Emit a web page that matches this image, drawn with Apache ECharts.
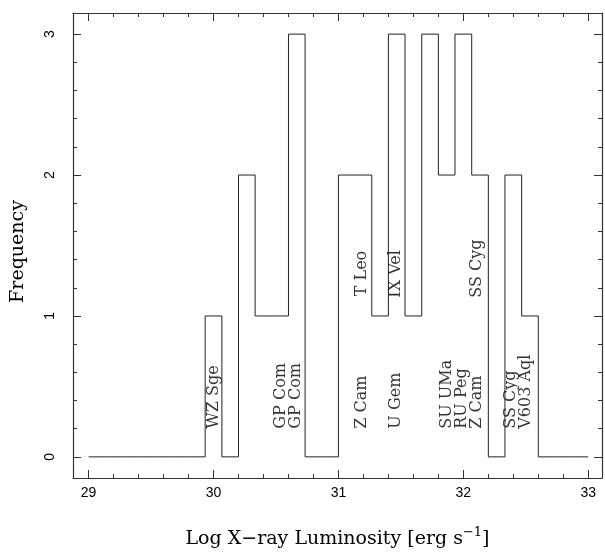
<!DOCTYPE html>
<html>
<head>
<meta charset="utf-8">
<script src="https://cdn.jsdelivr.net/npm/echarts@6/dist/echarts.min.js"></script>
<style>
html,body{margin:0;padding:0;background:#fff;}
#chart{width:605px;height:552px;}
</style>
</head>
<body>
<div id="chart"></div>
<script>
// Histogram bin edges (log Lx) and counts per bin
const binEdges = [29.000, 29.133, 29.267, 29.400, 29.533, 29.667, 29.800, 29.933, 30.067, 30.200,
                  30.333, 30.467, 30.600, 30.733, 30.867, 31.000, 31.133, 31.267, 31.400, 31.533,
                  31.667, 31.800, 31.933, 32.067, 32.200, 32.333, 32.467, 32.600, 32.733, 32.867, 33.000];
const binCounts = [0, 0, 0, 0, 0, 0, 0, 1, 0, 2,
                   1, 1, 3, 0, 0, 2, 2, 1, 3, 1,
                   3, 2, 3, 2, 0, 2, 1, 0, 0, 0];

// Object annotations: name, log Lx position, frequency-level where text starts
const annotNames = ['WZ Sge', 'GP Com', 'GP Com', 'Z Cam', 'T Leo', 'U Gem', 'IX Vel',
                    'SU UMa', 'RU Peg', 'Z Cam', 'SS Cyg', 'SS Cyg', 'V603 Aql'];
const annotX = [30.00, 30.535, 30.66, 31.19, 31.19, 31.46, 31.46,
                31.867, 31.99, 32.11, 32.11, 32.38, 32.50];
const annotY = [0.20, 0.20, 0.20, 0.20, 1.14, 0.20, 1.13,
                0.20, 0.20, 0.20, 1.13, 0.20, 0.20];

// Axis ticks
const xMajorTicks = [29, 30, 31, 32, 33];
const yMajorTicks = [0, 1, 2, 3];
const xRange = [28.875, 33.11];
const yRange = [-0.15, 3.15];

const xMinorTicks = [];
for (let i = 0; i <= 20; i++) xMinorTicks.push(+(29 + i * 0.2).toFixed(2));
const yMinorTicks = [];
for (let i = 0; i <= 15; i++) yMinorTicks.push(+(i * 0.2).toFixed(2));

// Build step outline from bins
const stepPts = [];
for (let i = 0; i < binCounts.length; i++) {
  stepPts.push([binEdges[i], binCounts[i]]);
  stepPts.push([binEdges[i + 1], binCounts[i]]);
}

const frameColor = '#333';
const serif = 'DejaVu Serif';

function xAx(pos, major, withLine, extra) {
  return Object.assign({
    type: 'value', position: pos, min: xRange[0], max: xRange[1],
    axisLine: { show: withLine, onZero: false, lineStyle: { color: frameColor, width: 1.2 } },
    axisTick: { show: true, inside: true, length: major ? 8 : 4,
                customValues: major ? xMajorTicks : xMinorTicks,
                lineStyle: { color: frameColor, width: 1 } },
    axisLabel: { show: false },
    splitLine: { show: false }
  }, extra || {});
}
function yAx(pos, major, withLine, extra) {
  return Object.assign({
    type: 'value', position: pos, min: yRange[0], max: yRange[1],
    axisLine: { show: withLine, onZero: false, lineStyle: { color: frameColor, width: 1.2 } },
    axisTick: { show: true, inside: true, length: major ? 8 : 4,
                customValues: major ? yMajorTicks : yMinorTicks,
                lineStyle: { color: frameColor, width: 1 } },
    axisLabel: { show: false },
    splitLine: { show: false }
  }, extra || {});
}

const chart = echarts.init(document.getElementById('chart'), null, { renderer: 'canvas' });
chart.setOption({
  animation: false,
  backgroundColor: '#fff',
  grid: { left: 73, right: 3, top: 13, bottom: 74, containLabel: false, outerBoundsMode: 'none' },
  xAxis: [
    xAx('bottom', true, true, {
      axisLabel: { show: true, customValues: xMajorTicks, margin: 8, fontSize: 14,
                   fontFamily: 'Liberation Sans', color: '#000' },
      name: '{t|Log X\u2212ray Luminosity [erg s}{s|\u22121}{t|]}',
      nameLocation: 'middle', nameGap: 48,
      nameTextStyle: {
        rich: {
          t: { fontFamily: serif, fontSize: 19, color: '#000', lineHeight: 26 },
          s: { fontFamily: serif, fontSize: 13, color: '#000', verticalAlign: 'top', lineHeight: 13 }
        }
      }
    }),
    xAx('bottom', false, false),
    xAx('top', true, true),
    xAx('top', false, false)
  ],
  yAxis: [
    yAx('left', true, true, {
      axisLabel: { show: true, customValues: yMajorTicks, rotate: 90, margin: 16, fontSize: 14,
                   fontFamily: 'Liberation Sans', color: '#000' },
      name: 'Frequency', nameLocation: 'middle', nameGap: 45, nameRotate: 90,
      nameTextStyle: { fontFamily: serif, fontSize: 19, color: '#000', padding: [0, 12, 0, 0] }
    }),
    yAx('left', false, false),
    yAx('right', true, true),
    yAx('right', false, false)
  ],
  series: [
    {
      type: 'line', xAxisIndex: 0, yAxisIndex: 0,
      data: stepPts, showSymbol: false, symbol: 'none',
      lineStyle: { color: '#222', width: 1 }, silent: true
    },
    {
      type: 'scatter', xAxisIndex: 0, yAxisIndex: 0,
      symbolSize: 0, silent: true,
      data: annotNames.map((n, i) => ({ name: n, value: [annotX[i], annotY[i]] })),
      label: {
        show: true, position: 'inside', rotate: 90, align: 'left', verticalAlign: 'middle',
        formatter: p => p.name, fontFamily: serif, fontSize: 16, color: '#000'
      }
    }
  ]
});
</script>
</body>
</html>
